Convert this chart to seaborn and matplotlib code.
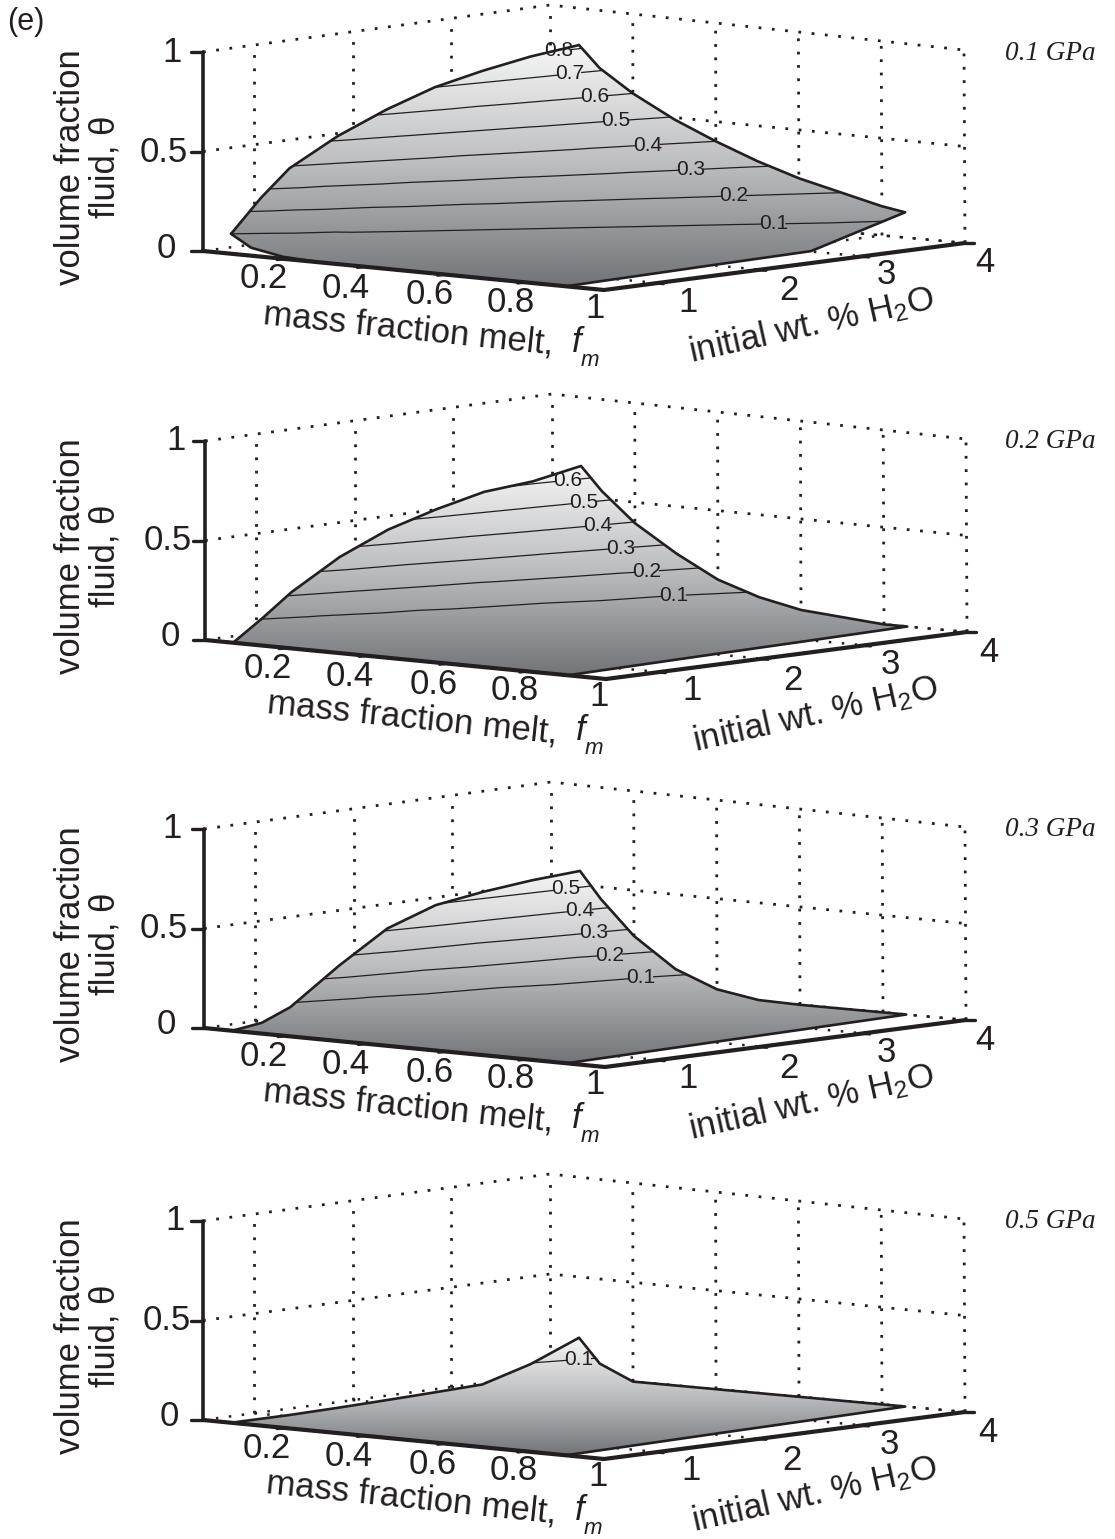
import numpy as np
import matplotlib
matplotlib.use("Agg")
import matplotlib.pyplot as plt
from matplotlib.patches import Polygon
import seaborn as sns

sns.set_theme(style="white")
plt.rcParams['font.family'] = ['Liberation Sans', 'DejaVu Sans']
plt.rcParams['mathtext.fontset'] = 'custom'
plt.rcParams['mathtext.rm'] = 'Liberation Sans'
plt.rcParams['mathtext.it'] = 'Liberation Sans:italic'

INK = '#231f20'
gray_map = sns.blend_palette(['#f7f7f7', '#bcbdbf', '#727376'], as_cmap=True)

# Data
pressures = ['0.1 GPa', '0.2 GPa', '0.3 GPa', '0.5 GPa']
w_values = [0.48, 0.78, 1.07, 1.56, 2.05, 2.54, 3.02, 3.51, 4.0]
fm_values = [0.07, 0.12, 0.2, 0.3, 0.4, 0.5, 0.6, 0.8]
fm_last = [0.905, 0.90, 0.896, 0.889, 0.882, 0.876, 0.87, 0.863, 0.856]

theta_01 = [[.10, .26, .39, .52, .62, .70, .75, .79, .815],
            [.04, .135, .255, .405, .503, .577, .63, .68, .71],
            [.01, .05, .115, .255, .365, .44, .51, .555, .60],
            [0, .028, .06, .128, .231, .317, .386, .439, .49],
            [0, 0, .012, .068, .137, .218, .288, .345, .40],
            [0, 0, 0, .02, .077, .142, .21, .267, .32],
            [0, 0, 0, 0, .027, .087, .146, .204, .253],
            [0, 0, 0, 0, 0, 0, .042, .105, .15],
            [0, 0, 0, 0, 0, 0, 0, .065, .13]]
theta_02 = [[0, .105, .215, .36, .465, .535, .59, .61, .655],
            [0, .008, .077, .203, .303, .386, .447, .503, .54],
            [0, 0, 0, .059, .137, .221, .292, .345, .395],
            [0, 0, 0, 0, .037, .085, .146, .209, .262],
            [0, 0, 0, 0, 0, .026, .062, .099, .15],
            [0, 0, 0, 0, 0, 0, .024, .05, .08],
            [0, 0, 0, 0, 0, 0, 0, .013, .035],
            [0, 0, 0, 0, 0, 0, 0, 0, 0],
            [0, 0, 0, 0, 0, 0, 0, 0, 0]]
theta_03 = [[0, .02, .08, .255, .41, .495, .53, .555, .57],
            [0, 0, .013, .08, .17, .265, .34, .40, .44],
            [0, 0, 0, 0, .043, .09, .15, .21, .27],
            [0, 0, 0, 0, 0, .01, .045, .08, .123],
            [0, 0, 0, 0, 0, 0, 0, .012, .04],
            [0, 0, 0, 0, 0, 0, 0, 0, .005],
            [0, 0, 0, 0, 0, 0, 0, 0, 0],
            [0, 0, 0, 0, 0, 0, 0, 0, 0],
            [0, 0, 0, 0, 0, 0, 0, 0, 0]]
theta_05 = [[0, 0, 0, .004, .01, .017, .025, .095, .195],
            [0, 0, 0, 0, 0, .002, .008, .022, .075],
            [0, 0, 0, 0, 0, 0, 0, 0, 0],
            [0, 0, 0, 0, 0, 0, 0, 0, 0],
            [0, 0, 0, 0, 0, 0, 0, 0, 0],
            [0, 0, 0, 0, 0, 0, 0, 0, 0],
            [0, 0, 0, 0, 0, 0, 0, 0, 0],
            [0, 0, 0, 0, 0, 0, 0, 0, 0],
            [0, 0, 0, 0, 0, 0, 0, 0, 0]]
surfaces = [theta_01, theta_02, theta_03, theta_05]
contour_levels = [[.1, .2, .3, .4, .5, .6, .7, .8],
                  [.1, .2, .3, .4, .5, .6],
                  [.1, .2, .3, .4, .5],
                  [.1]]

fm_ticks = [0.2, 0.4, 0.6, 0.8]
w_ticks = [1, 2, 3]
z_ticks = [0, 0.5, 1]

# Layout: box corners in pixels, panel offsets, label places
W_LOW, W_HIGH = 0.48, 4.0
FLOOR = np.array([[(203, 251), (550, 205)], [(604, 290), (965, 243)]], float)
TOP = np.array([[(203, 52), (550, 5)], [(604, 92), (964, 50)]], float)
panel_dx = [0, 2, 1, 0]
panel_dy = [0, 389, 777, 1169]
text_dx = [0, 4, 0, 3]
label_spots = [
    [(560, 52), (575, 77), (597, 99), (619, 124), (650, 148), (692, 171), (734, 197), (773, 222)],
    [(568, 482), (584, 504), (598, 527), (621, 549), (647, 572), (674, 598)],
    [(566, 889), (580, 913), (594, 933), (610, 957), (641, 978)],
    [(579, 1362)],
]


def project(fm, w, z, p):
    # trilinear map of the plot box onto the page
    fm, w, z = np.asarray(fm, float), np.asarray(w, float), np.asarray(z, float)
    t = (w - W_LOW) / (W_HIGH - W_LOW)
    out = []
    for k in range(2):
        low = FLOOR[0, 0, k] * (1 - fm) * (1 - t) + FLOOR[0, 1, k] * (1 - fm) * t \
            + FLOOR[1, 0, k] * fm * (1 - t) + FLOOR[1, 1, k] * fm * t
        high = TOP[0, 0, k] * (1 - fm) * (1 - t) + TOP[0, 1, k] * (1 - fm) * t \
            + TOP[1, 0, k] * fm * (1 - t) + TOP[1, 1, k] * fm * t
        out.append(low * (1 - z) + high * z)
    return out[0] + panel_dx[p], out[1] + panel_dy[p]


def line(ax, x, y, width, style='-', order=3):
    sns.lineplot(x=np.atleast_1d(x), y=np.atleast_1d(y), sort=False, estimator=None,
                 color=INK, linewidth=width, linestyle=style, zorder=order, ax=ax)


def box_line(ax, p, fm, w, z, width, style='-', order=3):
    x, y = project(fm, w, z, p)
    line(ax, x, y, width, style, order)


fig = plt.figure(figsize=(11.15, 15.39), dpi=100)
ax = fig.add_axes([0, 0, 1, 1])
dots = (0, (1, 3.8))
floor_dots = (0, (1, 4.2))

for p, table in enumerate(surfaces):
    # dotted walls and floor
    for z in z_ticks[1:]:
        box_line(ax, p, [0, 0, 1], [W_LOW, W_HIGH, W_HIGH], [z, z, z], 2.0, dots, 1)
    box_line(ax, p, [0, 0, 1], [W_LOW, W_HIGH, W_HIGH], [0, 0, 0], 1.8, floor_dots, 1)
    for w in w_ticks + [W_HIGH]:
        box_line(ax, p, [0, 0], [w, w], [0, 1], 2.0, dots, 1)
        box_line(ax, p, [0, 1], [w, w], [0, 0], 1.8, floor_dots, 1)
    for fm in fm_ticks + [1]:
        box_line(ax, p, [fm, fm], [W_HIGH, W_HIGH], [0, 1], 2.0, dots, 1)
        box_line(ax, p, [fm, fm], [W_LOW, W_HIGH], [0, 0], 1.8, floor_dots, 1)

    # solid axes and ticks
    box_line(ax, p, [0, 0], [W_LOW, W_LOW], [0, 1], 2.6, '-', 6)
    box_line(ax, p, [0, 1, 1], [W_LOW, W_LOW, W_HIGH], [0, 0, 0], 3.0, '-', 6)
    for z in z_ticks:
        x, y = project(0, W_LOW, z, p)
        line(ax, [x - 12, x], [y, y], 2.4, '-', 6)
    for fm in fm_ticks:
        box_line(ax, p, [fm, fm], [W_LOW, W_LOW - 0.06], [0, 0], 2.4, '-', 6)
    for w in w_ticks:
        box_line(ax, p, [1, 1.015], [w, w], [0, 0], 2.4, '-', 6)
    x, y = project(1, W_HIGH, 0, p)
    line(ax, [x, x + 9], [y, y], 2.4, '-', 6)

    # surface with a top to bottom gray ramp clipped to its outline
    theta = np.array(table)
    fm_grid = np.vstack([np.tile(fm_values, (len(w_values), 1)).T, fm_last])
    w_grid = np.tile(w_values, (fm_grid.shape[0], 1))
    X, Y = project(fm_grid, w_grid, theta, p)
    edge_x = np.r_[X[0, :], X[1:, -1], X[-1, -2::-1], X[-2::-1, 0]]
    edge_y = np.r_[Y[0, :], Y[1:, -1], Y[-1, -2::-1], Y[-2::-1, 0]]
    ramp = np.linspace(0, 1, 256)[:, None]
    im = ax.imshow(ramp, cmap=gray_map, aspect='auto', zorder=2,
                   extent=[X.min() - 2, X.max() + 2, Y.max() + 1, Y.min() - 1])
    im.set_clip_path(Polygon(np.c_[edge_x, edge_y], closed=True, transform=ax.transData))

    cs = ax.contour(X, Y, theta, levels=contour_levels[p], colors=INK, linewidths=0.9, zorder=3)
    texts = ax.clabel(cs, fmt='%.1f', fontsize=15, inline=True, inline_spacing=1,
                      manual=label_spots[p], colors=INK)
    for t in texts:
        t.set_rotation(0)
    line(ax, edge_x, edge_y, 1.9, '-', 5)

    # text
    tx, ty = text_dx[p], panel_dy[p]
    big = dict(fontsize=25, color=INK, ha='center', va='center')
    for value, px, py in zip(['1', '0.5', '0'], [172, 164, 166], [52, 152, 248]):
        ax.text(px + tx, py + ty, value, **big)
    for value, px, py in zip(['0.2', '0.4', '0.6', '0.8', '1'],
                             [264, 346, 430, 511, 595], [279, 288, 295, 302, 308]):
        ax.text(px + tx, py + ty, value, **big)
    for value, px, py in zip(['1', '2', '3', '4'],
                             [688, 789, 886, 985], [302, 291, 275, 263]):
        ax.text(px + tx, py + ty, value, **big)
    ax.text(71, 167 + ty, 'volume fraction', rotation=90, **big)
    ax.text(105, 167 + ty, 'fluid, θ', rotation=90, **big)
    ax.text(408 + tx, 329 + ty, 'mass fraction melt,', rotation=-6, rotation_mode='anchor', **big)
    ax.text(577 + tx, 342 + ty, 'f', fontsize=25, style='italic', color=INK, ha='center', va='center')
    ax.text(590 + tx, 360 + ty, 'm', fontsize=16, style='italic', color=INK, ha='center', va='center')
    ax.text(812 + tx, 325 + ty, 'initial wt. % H$_{2}$O', rotation=12.5, rotation_mode='anchor', **big)
    ax.text(1050, 53 + ty, pressures[p], fontsize=19.5, style='italic', color=INK,
            family='Liberation Serif', ha='center', va='center')

ax.text(7, 22, '(e)', fontsize=22, color=INK, ha='left', va='center')
ax.set_xlim(0, 1115)
ax.set_ylim(1539, 0)
ax.axis('off')
fig.savefig('out.png', dpi=100, facecolor='white')
